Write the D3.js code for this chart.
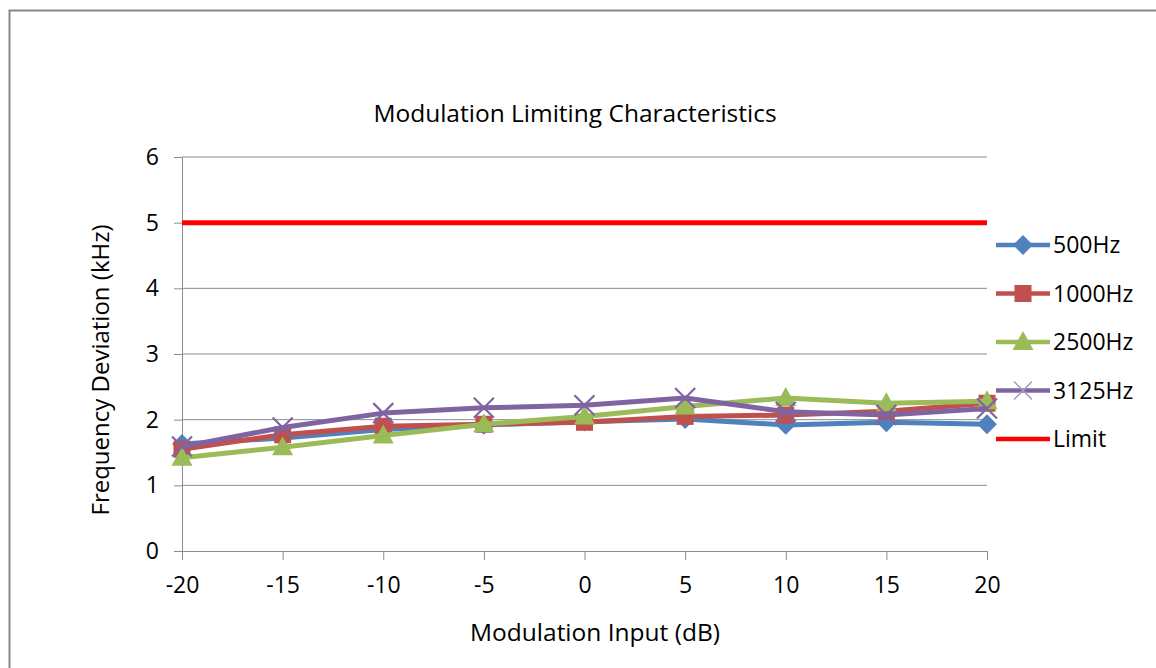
<!DOCTYPE html>
<html>
<head>
  <meta charset="UTF-8">
  <style>
    body { margin: 0; background: #fff; }
    text { font-family: "Open Sans", "Noto Sans", sans-serif; fill: #000; }
  </style>
  <title>Modulation Limiting Characteristics</title>
</head>
<body>
<svg></svg>
<script src="https://d3js.org/d3.v7.min.js"></script>
<script>

let width = 1156, height = 668;

// chart data
let inputs = [-20, -15, -10, -5, 0, 5, 10, 15, 20];
let hz500  = [1.63, 1.72, 1.85, 1.92, 1.97, 2.01, 1.92, 1.96, 1.93];
let hz1000 = [1.55, 1.77, 1.90, 1.93, 1.96, 2.05, 2.07, 2.13, 2.25];
let hz2500 = [1.42, 1.58, 1.76, 1.93, 2.05, 2.20, 2.33, 2.25, 2.28];
let hz3125 = [1.59, 1.88, 2.10, 2.18, 2.22, 2.33, 2.12, 2.07, 2.17];
let limit  = [5, 5, 5, 5, 5, 5, 5, 5, 5];
let yTicks = [0, 1, 2, 3, 4, 5, 6];

let series = [
  {name: "500Hz",  values: hz500,  color: "#4F81BD", marker: "diamond"},
  {name: "1000Hz", values: hz1000, color: "#C0504D", marker: "square"},
  {name: "2500Hz", values: hz2500, color: "#9BBB59", marker: "triangle"},
  {name: "3125Hz", values: hz3125, color: "#8064A2", marker: "x"},
  {name: "Limit",  values: limit,  color: "#FF0000", marker: "none"}
];

let svg = d3.select("svg")
    .attr("width", width)
    .attr("height", height);

// outer frame
svg.append("rect")
    .attr("x", 9.5).attr("y", 10.5)
    .attr("width", 1200).attr("height", 700)
    .attr("fill", "none")
    .attr("stroke", "#878787")
    .attr("stroke-width", 2);

let plotLeft = 182, plotRight = 987, plotTop = 157, plotBottom = 551;

let x = d3.scalePoint().domain(inputs).range([plotLeft, plotRight]);
let y = d3.scaleLinear().domain([0, 6]).range([plotBottom, plotTop]);

// gridlines
svg.append("g")
  .selectAll("line")
  .data(yTicks.filter(d => d > 0))
  .enter()
  .append("line")
    .attr("x1", plotLeft).attr("x2", plotRight)
    .attr("y1", d => y(d)).attr("y2", d => y(d))
    .attr("stroke", "#8C8C8C")
    .attr("stroke-width", 1);

// y axis
let yAxis = svg.append("g")
    .attr("transform", "translate(" + plotLeft + ",0)")
    .call(d3.axisLeft(y).tickValues(yTicks).tickSize(8).tickPadding(15).tickFormat(d3.format("d")));
yAxis.select(".domain").attr("stroke", "#8C8C8C");
yAxis.selectAll(".tick line").attr("stroke", "#8C8C8C");
yAxis.selectAll("text").attr("font-size", 23).attr("font-family", "Open Sans");

// x axis
let xAxis = svg.append("g")
    .attr("transform", "translate(0," + plotBottom + ")")
    .call(d3.axisBottom(x).tickSize(9).tickPadding(17).tickSizeOuter(0));
xAxis.select(".domain").attr("stroke", "#8C8C8C");
xAxis.selectAll(".tick line").attr("stroke", "#8C8C8C");
xAxis.selectAll("text").attr("font-size", 23).attr("font-family", "Open Sans");

// lines
let line = d3.line()
    .x((d, i) => x(inputs[i]))
    .y(d => y(d));

series.forEach(s => {
  svg.append("path")
      .datum(s.values)
      .attr("fill", "none")
      .attr("stroke", s.color)
      .attr("stroke-width", 5)
      .attr("stroke-linejoin", "round")
      .attr("d", line);

  let g = svg.append("g");
  s.values.forEach((v, i) => {
    drawMarker(g, s.marker, x(inputs[i]), y(v), s.color);
  });
});

function drawMarker(g, type, cx, cy, color) {
  if (type == "diamond") {
    g.append("path")
      .attr("d", d3.symbol().type(d3.symbolDiamond2).size(250)())
      .attr("transform", "translate(" + cx + "," + cy + ")")
      .attr("fill", color);
  } else if (type == "square") {
    g.append("rect")
      .attr("x", cx - 8.5).attr("y", cy - 8.5)
      .attr("width", 17).attr("height", 17)
      .attr("fill", color);
  } else if (type == "triangle") {
    g.append("path")
      .attr("d", "M" + cx + "," + (cy - 11) + "L" + (cx + 10.5) + "," + (cy + 8) + "L" + (cx - 10.5) + "," + (cy + 8) + "Z")
      .attr("fill", color);
  } else if (type == "x") {
    g.append("path")
      .attr("d", "M" + (cx - 10) + "," + (cy - 10) + "L" + (cx + 10) + "," + (cy + 10) +
                 "M" + (cx + 10) + "," + (cy - 10) + "L" + (cx - 10) + "," + (cy + 10))
      .attr("stroke", color)
      .attr("stroke-width", 2.2)
      .attr("fill", "none");
  }
}

// legend
let legend = svg.append("g");
series.forEach((s, i) => {
  let ly = 245 + i * 48.5;
  legend.append("line")
      .attr("x1", 996).attr("x2", 1050)
      .attr("y1", ly).attr("y2", ly)
      .attr("stroke", s.color)
      .attr("stroke-width", 4.5);
  if (s.marker == "x") {
    legend.append("path")
      .attr("d", "M1014," + (ly - 9) + "L1032," + (ly + 9) + "M1032," + (ly - 9) + "L1014," + (ly + 9))
      .attr("stroke", "#A898C0")
      .attr("stroke-width", 1.5);
  } else {
    drawMarker(legend, s.marker, 1023, ly, s.color);
  }
  legend.append("text")
      .attr("x", 1053)
      .attr("y", ly)
      .attr("dy", "0.35em")
      .attr("font-size", 23)
      .text(s.name);
});

// titles
svg.append("text")
    .attr("x", 575).attr("y", 113)
    .attr("dy", "0.35em")
    .attr("text-anchor", "middle")
    .attr("font-size", 24.5)
    .text("Modulation Limiting Characteristics");

svg.append("text")
    .attr("x", 595).attr("y", 632)
    .attr("dy", "0.35em")
    .attr("text-anchor", "middle")
    .attr("font-size", 24.5)
    .text("Modulation Input (dB)");

svg.append("text")
    .attr("transform", "translate(101,370) rotate(-90)")
    .attr("dy", "0.35em")
    .attr("text-anchor", "middle")
    .attr("font-size", 24)
    .text("Frequency  Deviation (kHz)");

</script>
</body>
</html>
